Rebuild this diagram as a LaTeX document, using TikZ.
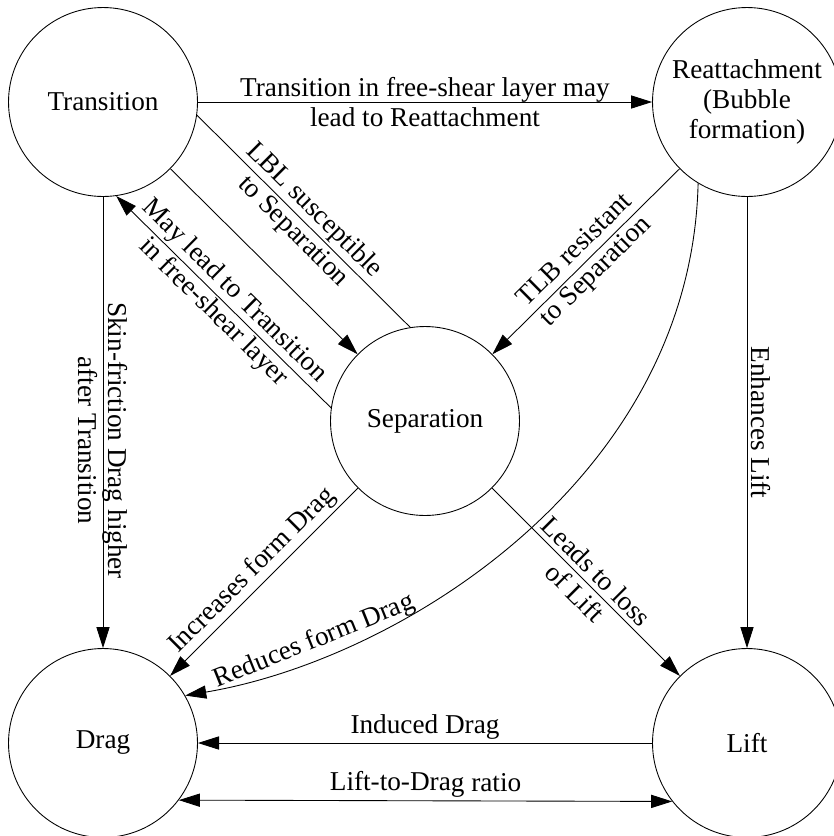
\documentclass[tikz,border=0pt]{standalone}
\usepackage{fontspec}
\setmainfont{Liberation Serif}
\usetikzlibrary{arrows.meta}

\tikzset{
  state/.style={circle, draw, line width=0.5pt, minimum size=3.78cm, inner sep=0pt, align=center},
  tip/.style={Triangle[length=12pt,width=7.5pt]},
  edge/.style={line width=0.5pt, -{Triangle[length=12pt,width=7.5pt]}},
  both/.style={line width=0.5pt, {Triangle[length=12pt,width=7.5pt]}-{Triangle[length=12pt,width=7.5pt]}},
  plain/.style={line width=0.5pt},
  lbl/.style={align=center, sloped, inner sep=2pt},
}

\begin{document}
\begin{tikzpicture}[x=0.02cm, y=-0.02cm, font=\fontsize{15.5}{17}\selectfont]
\useasboundingbox (0,0) rectangle (833,836);
\node[state] (trans) at (103,102) {Transition};
\node[state] (reat) at (747,102) {Reattachment\\(Bubble\\formation)};
\node[state] (sep) at (425,421) {Separation};
\node[state] (drag) at (103,743) {Drag};
\node[state] (lift) at (747,743) {Lift};

\draw[edge] (trans) -- node[lbl] {Transition in free-shear layer may\\lead to Reattachment} (reat);
\draw[plain] (trans.-8) -- node[lbl] {LBL susceptible\\to Separation} (sep.99);
\draw[edge] (trans) -- (sep);
\draw[edge] (sep.172) -- node[lbl] {May lead to Transition\\in free-shear layer} (trans.-82);
\draw[edge] (reat) -- node[lbl] {TLB resistant\\to Separation} (sep);
\draw[edge] (trans) -- node[lbl, pos=0.54] {Skin-friction Drag higher\\after Transition} (drag);
\draw[edge] (reat) -- node[lbl, above] {Enhances Lift} (lift);
\draw[edge] (reat.-121) .. controls +(-7,295) and +(215,-36) .. node[lbl, above, pos=0.8] {Reduces form Drag} (drag.30);
\draw[edge] (sep) -- node[lbl, above] {Increases form Drag} (drag);
\draw[edge] (sep) -- node[lbl] {Leads to loss\\of Lift} (lift);
\draw[edge] (lift) -- node[lbl, above] {Induced Drag} (drag);
\draw[both] (drag.-37.5) -- node[lbl, above] {Lift-to-Drag ratio} (lift.-142.5);
\end{tikzpicture}
\end{document}
